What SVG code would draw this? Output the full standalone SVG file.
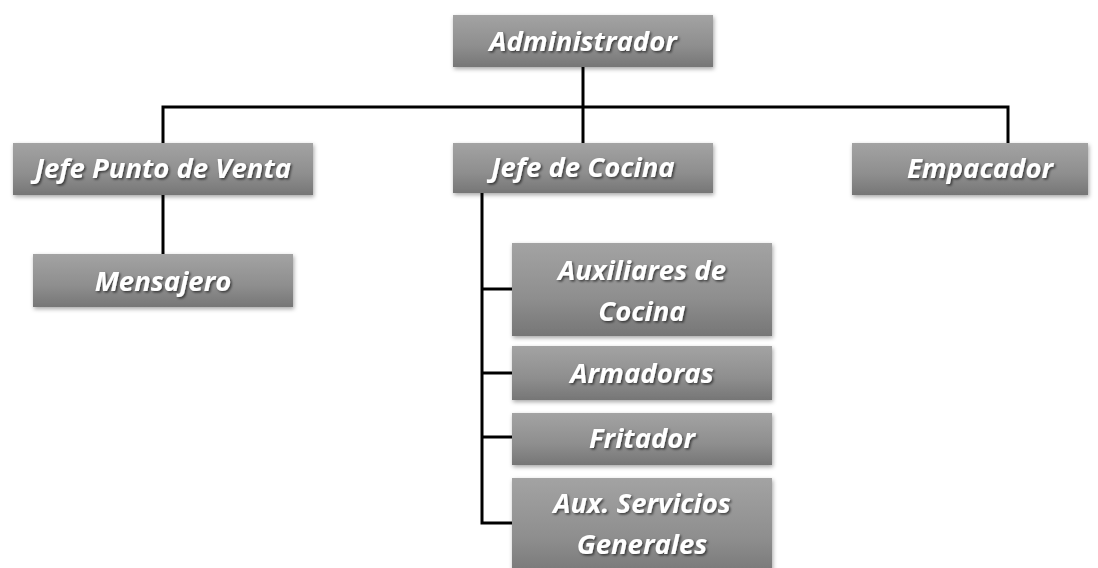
<svg xmlns="http://www.w3.org/2000/svg" width="1098" height="568" viewBox="0 0 1098 568">
<defs>
<linearGradient id="g" x1="0" y1="0" x2="0" y2="1">
<stop offset="0" stop-color="#a3a3a3"/>
<stop offset="0.6" stop-color="#8e8e8e"/>
<stop offset="1" stop-color="#767676"/>
</linearGradient>
<filter id="sh" x="-10%" y="-20%" width="120%" height="150%">
<feDropShadow dx="1" dy="2" stdDeviation="2" flood-color="#000" flood-opacity="0.35"/>
</filter>
<filter id="ts" x="-10%" y="-30%" width="120%" height="160%">
<feDropShadow dx="1.5" dy="1.5" stdDeviation="1" flood-color="#000" flood-opacity="0.6"/>
</filter>
</defs>
<style>
.box{fill:url(#g);filter:url(#sh);}
.t{font-family:"Open Sans","Liberation Sans",sans-serif;font-weight:bold;font-style:italic;font-size:27.5px;fill:#fff;text-anchor:middle;filter:url(#ts);}
.c{stroke:#000;stroke-width:3;fill:none;}
</style>
<rect width="1098" height="568" fill="#fff"/>
<g id="connectors">
<path class="c" d="M583 67V143"/>
<path class="c" d="M163 143V107H1008V143"/>
<path class="c" d="M163 195V254"/>
<path class="c" d="M482 193V523H512"/>
<path class="c" d="M482 289H512"/>
<path class="c" d="M482 373H512"/>
<path class="c" d="M482 437H512"/>
</g>
<g id="administrador"><rect class="box" x="453" y="15" width="260" height="52"/><text class="t" x="583" y="51">Administrador</text></g>
<g id="jefe-punto-venta"><rect class="box" x="13" y="143" width="300" height="52"/><text class="t" x="163" y="178">Jefe Punto de Venta</text></g>
<g id="jefe-cocina"><rect class="box" x="453" y="143" width="260" height="50"/><text class="t" x="583" y="177">Jefe de Cocina</text></g>
<g id="empacador"><rect class="box" x="852" y="143" width="236" height="52"/><text class="t" x="980" y="178">Empacador</text></g>
<g id="mensajero"><rect class="box" x="33" y="254" width="260" height="53"/><text class="t" x="163" y="291">Mensajero</text></g>
<g id="auxiliares-cocina"><rect class="box" x="512" y="243" width="260" height="93"/><text class="t" x="642" y="280">Auxiliares de</text><text class="t" x="642" y="321">Cocina</text></g>
<g id="armadoras"><rect class="box" x="512" y="346" width="260" height="54"/><text class="t" x="642" y="383">Armadoras</text></g>
<g id="fritador"><rect class="box" x="512" y="413" width="260" height="52"/><text class="t" x="642" y="448">Fritador</text></g>
<g id="aux-servicios"><rect class="box" x="512" y="478" width="260" height="100"/><text class="t" x="642" y="513">Aux. Servicios</text><text class="t" x="642" y="554">Generales</text></g>
</svg>
